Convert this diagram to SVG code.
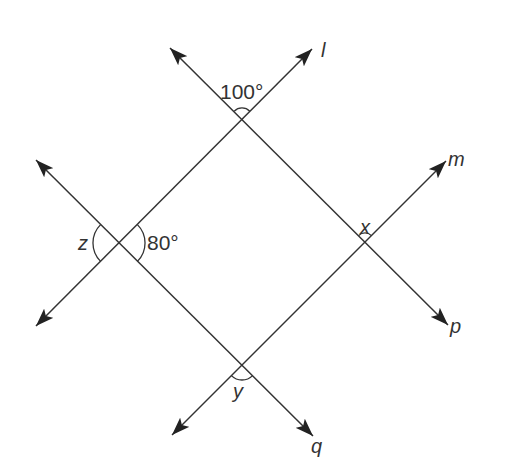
<svg xmlns="http://www.w3.org/2000/svg" width="507" height="467" viewBox="0 0 507 467">
<style>
.ln{stroke:#333;stroke-width:1.5;fill:none}
.arc{stroke:#333;stroke-width:1.3;fill:none}
.t{font-family:"Liberation Sans",Arial,sans-serif;fill:#333;font-size:21px}
.i{font-style:italic;font-size:20px}
</style>
<defs>
<marker id="ah" viewBox="0 0 18 13" refX="18" refY="6.5" markerWidth="18" markerHeight="13" markerUnits="userSpaceOnUse" orient="auto-start-reverse">
<path d="M0,0 L18,6.5 L0,13 L4,6.5 z" fill="#222"/>
</marker>
</defs>
<rect width="507" height="467" fill="#fff"/>
<g id="connectors">
<line id="line-l" class="ln" x1="36" y1="326" x2="312" y2="49" marker-start="url(#ah)" marker-end="url(#ah)"/>
<line id="line-m" class="ln" x1="172" y1="435" x2="446" y2="161" marker-start="url(#ah)" marker-end="url(#ah)"/>
<line id="line-p" class="ln" x1="170" y1="48" x2="448" y2="325" marker-start="url(#ah)" marker-end="url(#ah)"/>
<line id="line-q" class="ln" x1="36" y1="160" x2="313" y2="436" marker-start="url(#ah)" marker-end="url(#ah)"/>
</g>
<g id="angle-top">
<path class="arc" d="M234.2,111.2 A11,11 0 0 1 249.8,111.2"/>
<text class="t" x="220" y="99">100°</text>
</g>
<g id="angle-z">
<path class="arc" d="M100.6,261.4 A26,26 0 0 1 100.6,224.6"/>
<path class="arc" d="M137.4,224.6 A26,26 0 0 1 137.4,261.4"/>
<text class="t i" x="78" y="250">z</text>
<text class="t" x="147" y="250">80°</text>
</g>
<g id="angle-x">
<path class="arc" d="M358.6,235.6 A9,9 0 0 1 371.4,235.6"/>
<text class="t i" x="360" y="234">x</text>
</g>
<g id="angle-y">
<path class="arc" d="M252.6,375.6 A15,15 0 0 1 231.4,375.6"/>
<text class="t i" x="233" y="398">y</text>
</g>
<g id="labels">
<text class="t i" x="321" y="57">l</text>
<text class="t i" x="448" y="166">m</text>
<text class="t i" x="450" y="333">p</text>
<text class="t i" x="311" y="453">q</text>
</g>
</svg>
